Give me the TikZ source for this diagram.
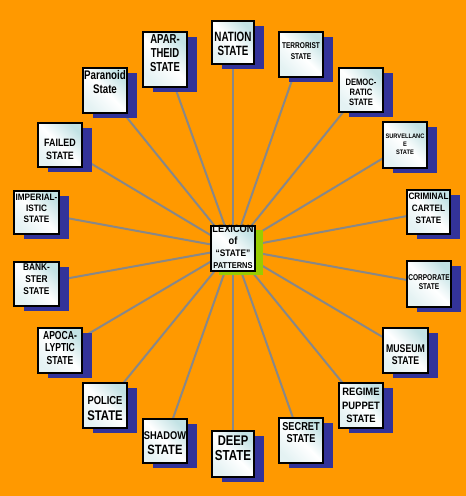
\documentclass[tikz,border=0pt]{standalone}
\usepackage{fontspec}
\setmainfont{Liberation Sans}
\usepackage{graphicx}
\usetikzlibrary{shadows,backgrounds}
\definecolor{bgorange}{HTML}{FF9900}
\definecolor{navy}{HTML}{333399}
\definecolor{lgreen}{HTML}{99CC00}
\definecolor{boxcyan}{HTML}{C2E2E4}
\definecolor{boxpale}{HTML}{E4F2F3}
\definecolor{spoke}{HTML}{888888}
\newcommand\T[4]{\scalebox{#1}[1]{\fontsize{#2}{#3}\selectfont\bfseries\begin{tabular}{@{}c@{}}#4\end{tabular}}}
\tikzset{
  boxbase/.style={draw=black, line width=1.2pt, inner sep=0pt,
    top color=boxcyan, bottom color=boxpale, middle color=white, shading angle=-45},
  statebox/.style={boxbase, general shadow={fill=navy, shadow xshift=10pt, shadow yshift=-5pt}},
  centerbox/.style={boxbase, general shadow={fill=lgreen, shadow xshift=8pt, shadow yshift=-4pt}},
  lbl/.style={inner sep=0pt, text=black},
  spokeline/.style={draw=spoke, line width=2pt}
}
\newcommand\placebox[7]{%
  \node[statebox, minimum width=#4pt, minimum height=#5pt] (#1) at (#2,#3) {};
  \node[lbl] (#1-t) at ([yshift=#6pt]#1.center) {#7};}
\begin{document}
\begin{tikzpicture}[x=1pt,y=-1pt]
\useasboundingbox (0,0) rectangle (466,496);
\node[centerbox, minimum width=44pt, minimum height=45pt] (lex) at (233,248.5) {};
\node[lbl] (lex-t) at (lex.center) {\scalebox{0.88}[1]{\bfseries\begin{tabular}{@{}c@{}}\fontsize{10.5}{10.5}\selectfont LEXICON\\\fontsize{10.5}{10.5}\selectfont of\\\fontsize{9.5}{10.5}\selectfont “STATE”\\\fontsize{8.5}{10.5}\selectfont PATTERNS\end{tabular}}};
\placebox{nation}{233}{42.5}{42}{43}{-3.3}{\T{0.73}{13.5}{13.3}{NATION\\STATE}}
\placebox{apar}{165}{59.5}{44}{55}{4.7}{\T{0.73}{13}{13.7}{APAR-\\THEID\\STATE}}
\placebox{terror}{301}{54.5}{44}{45}{2.5}{\T{0.78}{8.4}{10.5}{TERRORIST\\STATE}}
\placebox{democ}{361}{90}{44}{44}{-3.2}{\T{0.82}{9.3}{10}{DEMOC-\\RATIC\\STATE}}
\placebox{surv}{405}{145}{44}{46}{0.2}{\T{0.88}{6.5}{7.8}{SURVELLANC\\E\\STATE}}
\placebox{criminal}{428.5}{212}{43}{44}{2.8}{\T{0.88}{9.3}{11.7}{CRIMINAL\\CARTEL\\STATE}}
\placebox{corp}{429}{284}{44}{46}{1}{\T{0.78}{8.4}{8.7}{CORPORATE\\STATE}}
\placebox{museum}{405.5}{350.5}{45}{45}{-5.4}{\T{0.78}{11.2}{12.7}{MUSEUM\\STATE}}
\placebox{regime}{361}{405.5}{44}{45}{-0.9}{\T{0.88}{10.7}{13.8}{REGIME\\PUPPET\\STATE}}
\placebox{secret}{301}{440.5}{44}{45}{6.5}{\T{0.8}{11.5}{12}{SECRET\\STATE}}
\placebox{deep}{233}{454}{42}{46}{4}{\T{0.8}{14}{14.7}{DEEP\\{\fontsize{14.5}{14.7}\selectfont STATE}}}
\placebox{shadowst}{165}{441}{44}{44}{-3}{\T{0.83}{11.2}{15}{SHADOW\\{\fontsize{13.5}{15}\selectfont STATE}}}
\placebox{police}{105}{405.5}{44}{45}{-4}{\T{0.81}{11.6}{16}{POLICE\\{\fontsize{14}{16}\selectfont STATE}}}
\placebox{apoca}{60}{350.5}{44}{45}{1}{\T{0.74}{11.6}{12.2}{APOCA-\\LYPTIC\\STATE}}
\placebox{bank}{36.5}{284}{45}{44}{3.7}{\T{0.85}{9.8}{11.7}{BANK-\\STER\\STATE}}
\placebox{imperial}{36.5}{212.5}{45}{43}{3.3}{\T{0.88}{9.3}{11.3}{IMPERIAL-\\ISTIC\\STATE}}
\placebox{failed}{60}{145}{44}{44}{-4.9}{\T{0.83}{10.7}{13}{FAILED\\STATE}}
\placebox{paranoid}{105}{90.5}{44}{45}{6.5}{\T{0.78}{12.5}{14}{Paranoid\\State}}
\begin{pgfonlayer}{background}
\fill[bgorange] (0,0) rectangle (466,496);
\foreach \n in {nation,apar,terror,democ,surv,criminal,corp,museum,regime,secret,deep,shadowst,police,apoca,bank,imperial,failed,paranoid}
  \draw[spokeline] (lex) -- (\n);
\end{pgfonlayer}
\end{tikzpicture}
\end{document}
